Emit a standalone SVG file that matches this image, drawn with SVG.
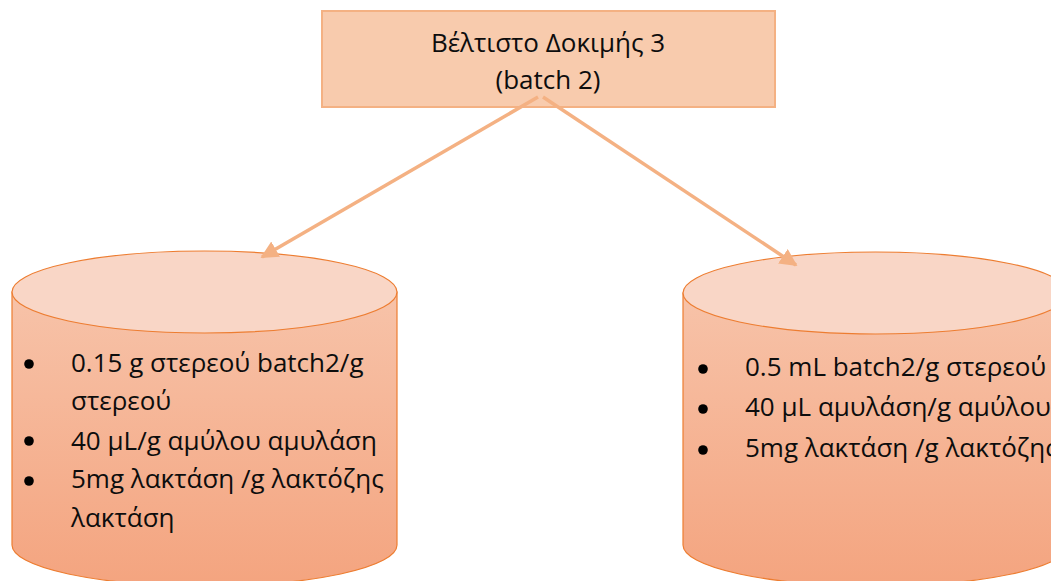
<svg xmlns="http://www.w3.org/2000/svg" width="1051" height="581" viewBox="0 0 1051 581">
  <style>
    .label { font-family: "Open Sans", "Noto Sans", "DejaVu Sans", sans-serif; font-size: 26px; fill: #0d0d0d; }
    .title { text-anchor: middle; }
    .box { fill: #F8CBAD; stroke: #F4B183; stroke-width: 2; }
    .body { fill: url(#bodyGrad); stroke: #ED7D31; stroke-width: 1.2; }
    .lid { fill: #F9D6C6; stroke: #ED7D31; stroke-width: 1.2; }
    .bullet { fill: #000; }
    .link { stroke: #F4B183; stroke-width: 3.5; fill: none; marker-end: url(#head); }
  </style>
  <defs>
    <linearGradient id="bodyGrad" x1="0" y1="0" x2="0" y2="1">
      <stop offset="0" stop-color="#F7C3A9"/>
      <stop offset="1" stop-color="#F4A47F"/>
    </linearGradient>
    <marker id="head" viewBox="0 0 10 10" refX="9" refY="5" markerWidth="5" markerHeight="5" orient="auto" markerUnits="strokeWidth">
      <path d="M0,0 L10,5 L0,10 Z" fill="#F4B183"/>
    </marker>
  </defs>
  <rect width="1051" height="581" fill="#ffffff"/>

  <!-- top node -->
  <g id="node-best">
    <rect class="box" x="322" y="11" width="453" height="96"/>
    <text class="label title" x="548" y="52">Βέλτιστο Δοκιμής 3</text>
    <text class="label title" x="548" y="89">(batch 2)</text>
  </g>

  <!-- left cylinder -->
  <g id="node-left">
    <path class="body" d="M12,292 L12,545 A192.5,41 0 0 0 397,545 L397,292 Z"/>
    <ellipse class="lid" cx="204.5" cy="292" rx="192.5" ry="41"/>
    <circle class="bullet" cx="29" cy="364" r="4.8"/>
    <circle class="bullet" cx="29" cy="441" r="4.8"/>
    <circle class="bullet" cx="29" cy="481" r="4.8"/>
    <text class="label" x="71" y="372">0.15 g στερεού batch2/g</text>
    <text class="label" x="71" y="410">στερεού</text>
    <text class="label" x="71" y="450">40 μL/g αμύλου αμυλάση</text>
    <text class="label" x="71" y="488">5mg λακτάση /g λακτόζης</text>
    <text class="label" x="71" y="527">λακτάση</text>
  </g>

  <!-- right cylinder -->
  <g id="node-right">
    <path class="body" d="M683,293 L683,545 A192.5,41 0 0 0 1068,545 L1068,293 Z"/>
    <ellipse class="lid" cx="875.5" cy="293" rx="192.5" ry="41"/>
    <circle class="bullet" cx="703" cy="369" r="4.8"/>
    <circle class="bullet" cx="703" cy="409" r="4.8"/>
    <circle class="bullet" cx="703" cy="450" r="4.8"/>
    <text class="label" x="745" y="376">0.5 mL batch2/g στερεού</text>
    <text class="label" x="745" y="416">40 μL αμυλάση/g αμύλου</text>
    <text class="label" x="745" y="457">5mg λακτάση /g λακτόζης</text>
  </g>

  <!-- connectors -->
  <g id="connectors">
    <line class="link" x1="538" y1="97" x2="262" y2="257"/>
    <line class="link" x1="543" y1="97" x2="796" y2="265"/>
  </g>
</svg>
